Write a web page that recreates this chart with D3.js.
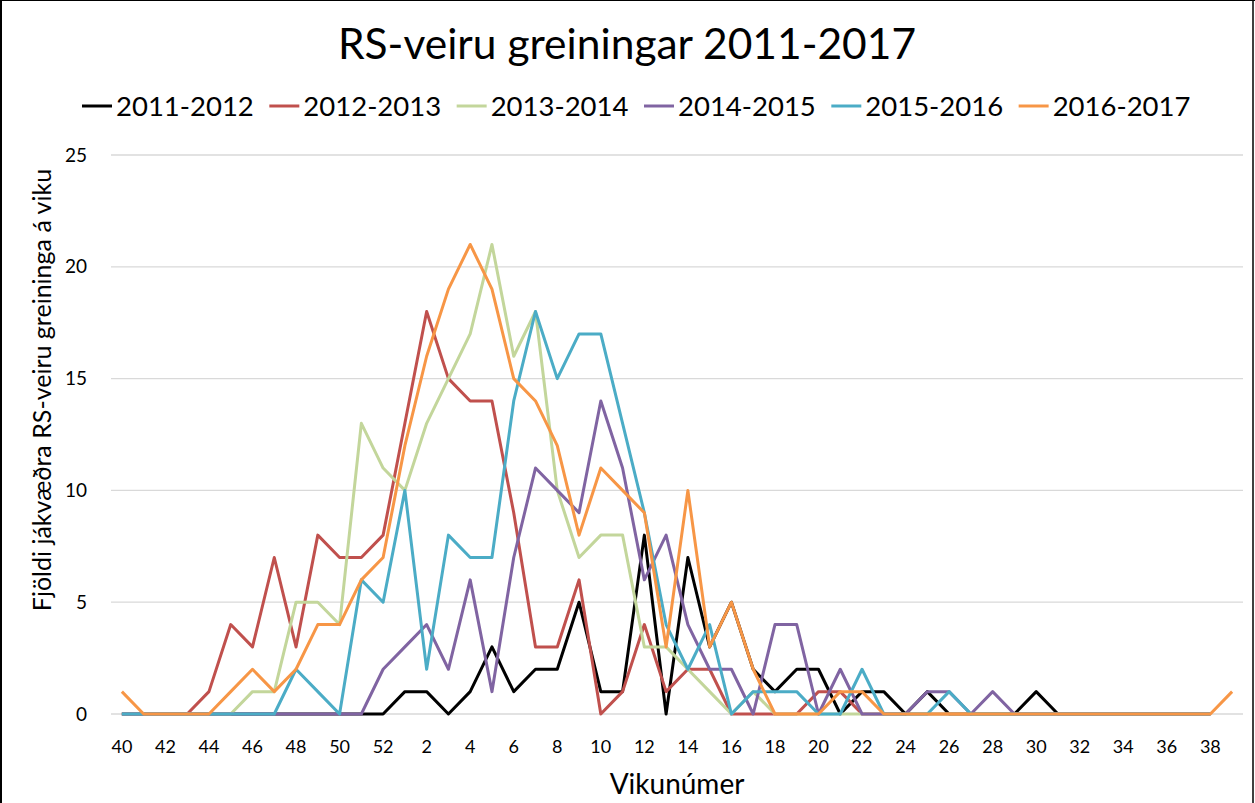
<!DOCTYPE html>
<html>
<head>
<meta charset="utf-8">
<script src="https://cdn.jsdelivr.net/npm/d3@7"></script>
<style>
  body { margin: 0; background: #fff; }
  text { font-family: Lato, "Open Sans", sans-serif; }
</style>
</head>
<body>
<div id="chart"></div>
<script>
// week numbers, season runs from week 40 to week 39 next year
var weeks = [40, 41, 42, 43, 44, 45, 46, 47, 48, 49, 50, 51, 52,
  1, 2, 3, 4, 5, 6, 7, 8, 9, 10, 11, 12, 13, 14, 15, 16, 17, 18, 19, 20,
  21, 22, 23, 24, 25, 26, 27, 28, 29, 30, 31, 32, 33, 34, 35, 36, 37, 38, 39];

var tickWeeks = [40, 42, 44, 46, 48, 50, 52, 2, 4, 6, 8, 10, 12, 14, 16, 18,
  20, 22, 24, 26, 28, 30, 32, 34, 36, 38];

var seasons = ["2011-2012", "2012-2013", "2013-2014", "2014-2015", "2015-2016", "2016-2017"];
var colors = ["#000000", "#c0504d", "#c3d69b", "#8064a2", "#4bacc6", "#f79646"];

// positive RS tests per week, one array per season (same order as weeks)
var s2011 = [0, 0, 0, 0, 0, 0, 0, 0, 0, 0, 0, 0, 0,
  1, 1, 0, 1, 3, 1, 2, 2, 5, 1, 1, 8, 0, 7, 3, 5, 2, 1, 2, 2,
  0, 1, 1, 0, 1, 0, 0, 0, 0, 1, 0, 0, 0, 0, 0, 0, 0, 0, null];
var s2012 = [0, 0, 0, 0, 1, 4, 3, 7, 3, 8, 7, 7, 8,
  13, 18, 15, 14, 14, 9, 3, 3, 6, 0, 1, 4, 1, 2, 2, 0, 0, 0, 0, 1,
  1, 0, 0, 0, 0, 0, 0, 0, 0, 0, 0, 0, 0, 0, 0, 0, 0, 0, null];
var s2013 = [0, 0, 0, 0, 0, 0, 1, 1, 5, 5, 4, 13, 11,
  10, 13, 15, 17, 21, 16, 18, 10, 7, 8, 8, 3, 3, 2, 1, 0, 1, 0, 0, 0,
  0, 0, 0, 0, 0, 0, 0, 0, 0, 0, 0, 0, 0, 0, 0, 0, 0, 0, null];
var s2014 = [0, 0, 0, 0, 0, 0, 0, 0, 0, 0, 0, 0, 2,
  3, 4, 2, 6, 1, 7, 11, 10, 9, 14, 11, 6, 8, 4, 2, 2, 0, 4, 4, 0,
  2, 0, 0, 0, 1, 1, 0, 1, 0, 0, 0, 0, 0, 0, 0, 0, 0, 0, null];
var s2015 = [0, 0, 0, 0, 0, 0, 0, 0, 2, 1, 0, 6, 5,
  10, 2, 8, 7, 7, 14, 18, 15, 17, 17, 13, 9, 4, 2, 4, 0, 1, 1, 1, 0,
  0, 2, 0, 0, 0, 1, 0, 0, 0, 0, 0, 0, 0, 0, 0, 0, 0, 0, null];
var s2016 = [1, 0, 0, 0, 0, 1, 2, 1, 2, 4, 4, 6, 7,
  12, 16, 19, 21, 19, 15, 14, 12, 8, 11, 10, 9, 3, 10, 3, 5, 2, 0, 0, 0,
  1, 1, 0, 0, 0, 0, 0, 0, 0, 0, 0, 0, 0, 0, 0, 0, 0, 0, 1];

var yTicks = [0, 5, 10, 15, 20, 25];

var series = [s2011, s2012, s2013, s2014, s2015, s2016];

var width = 1255,
  height = 803,
  plot = { left: 111, right: 1243, top: 155, bottom: 714 };

var svg = d3.select("#chart")
  .append("svg")
  .attr("width", width)
  .attr("height", height);

// frame around the picture
svg.append("line").attr("x1", 1).attr("x2", 1).attr("y1", 0).attr("y2", height)
  .attr("stroke", "#000").attr("stroke-width", 2);
svg.append("line").attr("x1", width - 2).attr("x2", width - 2).attr("y1", 0).attr("y2", height)
  .attr("stroke", "#000").attr("stroke-width", 1.5);
svg.append("line").attr("x1", 0).attr("x2", width).attr("y1", 0.5).attr("y2", 0.5)
  .attr("stroke", "#000").attr("stroke-width", 1);

var x = d3.scaleBand()
  .domain(weeks)
  .range([plot.left, plot.right]);

var y = d3.scaleLinear()
  .domain([0, 25])
  .range([plot.bottom, plot.top]);

// horizontal grid lines
svg.append("g")
  .selectAll("line")
  .data(yTicks)
  .enter()
  .append("line")
  .attr("x1", plot.left)
  .attr("x2", plot.right)
  .attr("y1", function(d) { return y(d); })
  .attr("y2", function(d) { return y(d); })
  .attr("stroke", "#d9d9d9")
  .attr("stroke-width", 1.3);

// Y axis labels
var yAxis = svg.append("g")
  .attr("transform", "translate(" + (plot.left - 24) + ",0)")
  .call(d3.axisLeft(y).tickValues(yTicks).tickSize(0).tickPadding(0));
yAxis.select(".domain").remove();
yAxis.selectAll("text")
  .attr("font-family", "Lato, sans-serif")
  .attr("font-size", 19)
  .attr("fill", "#000");

// X axis labels
var xAxis = svg.append("g")
  .attr("transform", "translate(0," + plot.bottom + ")")
  .call(d3.axisBottom(x).tickValues(tickWeeks).tickSize(0).tickPadding(26));
xAxis.select(".domain").remove();
xAxis.selectAll("text")
  .attr("font-family", "Lato, sans-serif")
  .attr("font-size", 18)
  .attr("fill", "#000");

// the lines
var line = d3.line()
  .defined(function(d) { return d != null; })
  .x(function(d, i) { return x(weeks[i]) + x.bandwidth() / 2; })
  .y(function(d) { return y(d); });

svg.append("g")
  .selectAll("path")
  .data(series)
  .enter()
  .append("path")
  .attr("d", line)
  .attr("fill", "none")
  .attr("stroke", function(d, i) { return colors[i]; })
  .attr("stroke-width", 3)
  .attr("stroke-linejoin", "round");

// title
svg.append("text")
  .attr("x", 627)
  .attr("y", 59)
  .attr("text-anchor", "middle")
  .attr("font-size", 42.5)
  .attr("fill", "#000")
  .text("RS-veiru greiningar 2011-2017");

// legend
var legend = svg.append("g");
var lx = 82;
seasons.forEach(function(s, i) {
  legend.append("line")
    .attr("x1", lx).attr("x2", lx + 30)
    .attr("y1", 106).attr("y2", 106)
    .attr("stroke", colors[i])
    .attr("stroke-width", 3);
  var t = legend.append("text")
    .attr("x", lx + 34)
    .attr("y", 116)
    .attr("font-size", 27.5)
    .attr("fill", "#000")
    .text(s);
  lx += 34 + t.node().getComputedTextLength() + 15.5;
});

// axis titles
svg.append("text")
  .attr("transform", "translate(51,390) rotate(-90)")
  .attr("text-anchor", "middle")
  .attr("font-size", 25)
  .attr("fill", "#000")
  .text("Fjöldi jákvæðra RS-veiru greininga á viku");

svg.append("text")
  .attr("x", 677)
  .attr("y", 794)
  .attr("text-anchor", "middle")
  .attr("font-size", 28)
  .attr("fill", "#000")
  .text("Vikunúmer");
</script>
</body>
</html>
